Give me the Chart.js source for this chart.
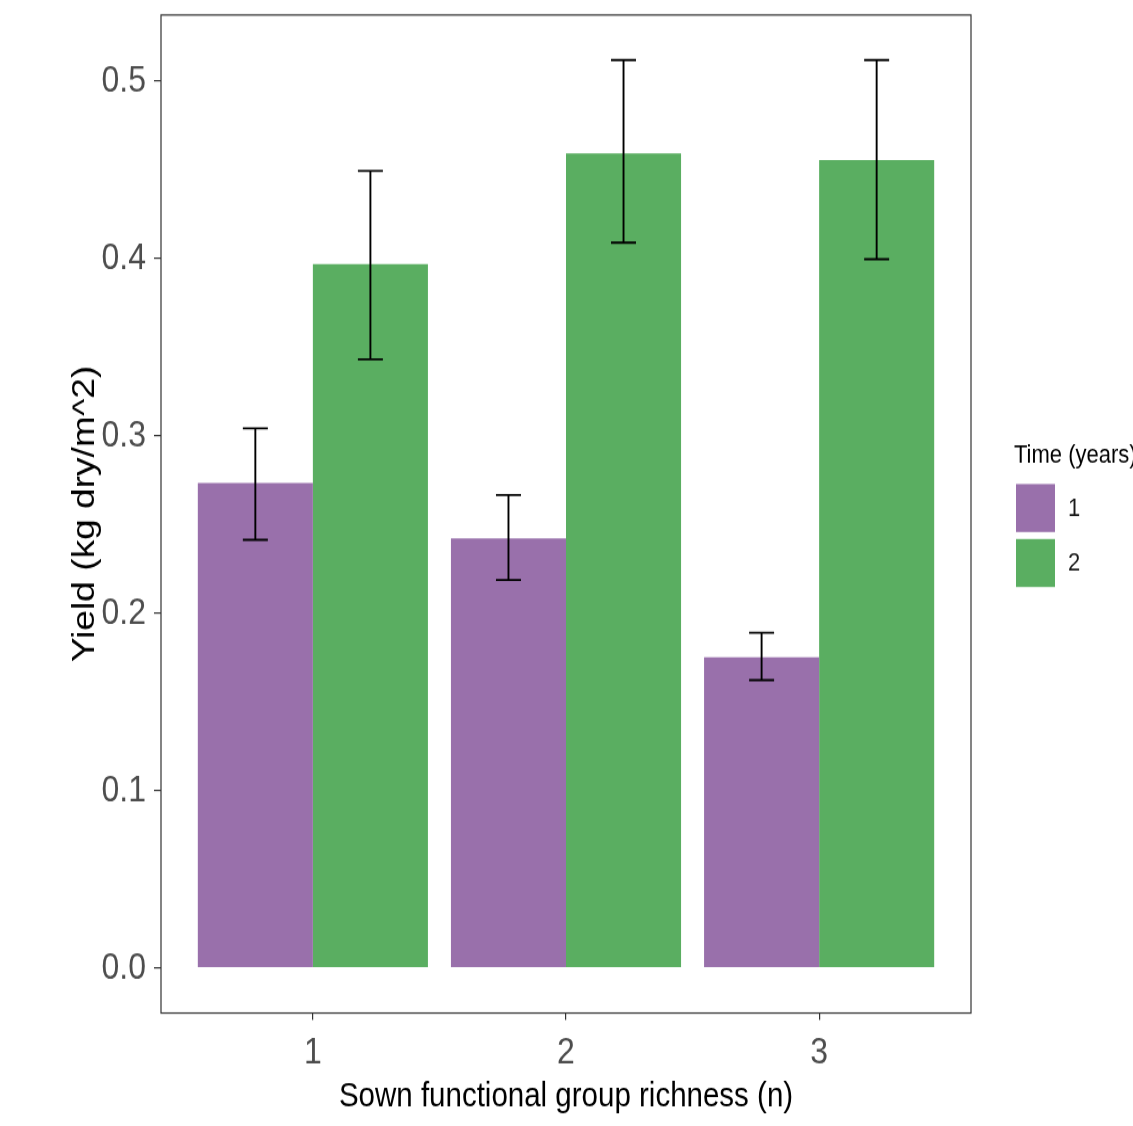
<!DOCTYPE html>
<html>
<head>
<meta charset="utf-8">
<script src="https://cdn.jsdelivr.net/npm/chart.js@4.4.1/dist/chart.umd.min.js"></script>
<style>
  html, body { margin: 0; padding: 0; background: #fff; }
</style>
</head>
<body>
<!-- the reference is stretched vertically, so the canvas is drawn shorter and scaled up -->
<canvas id="chart" width="1133" height="971" style="display:block;width:1133px;height:1126px"></canvas>
<script>
const richness = [1, 2, 3];
const yearLabels = ["1", "2"];
const yield1 = [0.2734, 0.2422, 0.1751];
const yield1Lo = [0.2413, 0.2187, 0.1622];
const yield1Hi = [0.3042, 0.2666, 0.1890];
const yield2 = [0.3968, 0.4592, 0.4555];
const yield2Lo = [0.3431, 0.4089, 0.3995];
const yield2Hi = [0.4493, 0.5118, 0.5118];
const yTicks = [0, 0.1, 0.2, 0.3, 0.4, 0.5];

const COLORS = ["#9970AB", "#5AAE61"];
const TICK_COLOR = "#4D4D4D";
const FRAME = "#333333";
const FONT = "'Liberation Sans', Arial, sans-serif";

const errorBars = {
  id: "errorBars",
  afterDatasetsDraw(chart) {
    const { ctx } = chart;
    const y = chart.scales.y;
    const lows = [yield1Lo, yield2Lo];
    const highs = [yield1Hi, yield2Hi];
    ctx.save();
    ctx.strokeStyle = "#000";
    ctx.lineWidth = 1.9;
    chart.data.datasets.forEach((ds, di) => {
      const meta = chart.getDatasetMeta(di);
      meta.data.forEach((bar, i) => {
        const x = bar.x;
        const y0 = y.getPixelForValue(lows[di][i]);
        const y1 = y.getPixelForValue(highs[di][i]);
        const half = 12.5;
        ctx.beginPath();
        ctx.moveTo(x, y0); ctx.lineTo(x, y1);
        ctx.moveTo(x - half, y0); ctx.lineTo(x + half, y0);
        ctx.moveTo(x - half, y1); ctx.lineTo(x + half, y1);
        ctx.stroke();
      });
    });
    ctx.restore();
  }
};

const frameAndLegend = {
  id: "frameAndLegend",
  afterDraw(chart) {
    const { ctx, chartArea: a } = chart;
    ctx.save();
    ctx.strokeStyle = FRAME;
    ctx.lineWidth = 1.2;
    ctx.strokeRect(a.left, a.top, a.right - a.left, a.bottom - a.top);

    // legend, ggplot style
    ctx.fillStyle = "#000";
    ctx.font = "22px " + FONT;
    ctx.textBaseline = "alphabetic";
    ctx.textAlign = "left";
    ctx.fillText("Time (years)", 1014, 399.3);
    const keyTop = [417.4, 464.8];
    yearLabels.forEach((lab, i) => {
      ctx.fillStyle = COLORS[i];
      ctx.fillRect(1016, keyTop[i], 39, 41.4);
      ctx.fillStyle = "#1a1a1a";
      ctx.textBaseline = "middle";
      ctx.fillText(lab, 1068, keyTop[i] + 21.5);
    });
    ctx.restore();
  }
};

new Chart(document.getElementById("chart"), {
  type: "bar",
  data: {
    datasets: [
      {
        label: yearLabels[0],
        data: richness.map((r, i) => ({ x: r, y: yield1[i] })),
        backgroundColor: COLORS[0]
      },
      {
        label: yearLabels[1],
        data: richness.map((r, i) => ({ x: r, y: yield2[i] })),
        backgroundColor: COLORS[1]
      }
    ]
  },
  options: {
    responsive: false,
    animation: false,
    devicePixelRatio: 1,
    categoryPercentage: 230 / 253,
    barPercentage: 1,
    layout: { padding: { left: 0, top: 12.93, right: 162, bottom: 0 } },
    plugins: { legend: { display: false }, tooltip: { enabled: false } },
    scales: {
      x: {
        type: "linear",
        min: 0.4,
        max: 3.6,
        offset: false,
        afterFit(s) {
          s.height = 971 - 873.55;
          s.paddingLeft = 0; s.paddingRight = 0;
        },
        afterBuildTicks(s) { s.ticks = richness.map(v => ({ value: v })); },
        grid: { offset: false, drawOnChartArea: false, drawTicks: true, tickLength: 6, color: FRAME, lineWidth: 1.2 },
        border: { display: false },
        ticks: {
          padding: 9,
          color: TICK_COLOR,
          font: { family: FONT, size: 32 },
          callback: v => String(v),
          maxRotation: 0
        },
        title: {
          display: true,
          text: "Sown functional group richness (n)",
          color: "#000",
          font: { family: FONT, size: 29.5 },
          padding: { top: 0, bottom: 7 }
        }
      },
      y: {
        min: -0.0254,
        max: 0.5372,
        afterFit(s) {
          s.width = 161;
          s.paddingTop = 0; s.paddingBottom = 0;
        },
        afterBuildTicks(s) { s.ticks = yTicks.map(v => ({ value: v })); },
        grid: { drawOnChartArea: false, drawTicks: true, tickLength: 7, color: FRAME, lineWidth: 1.2 },
        border: { display: false },
        ticks: {
          padding: 8,
          color: TICK_COLOR,
          font: { family: FONT, size: 32 },
          callback: v => v.toFixed(1)
        },
        title: {
          display: true,
          text: "Yield (kg dry/m^2)",
          color: "#000",
          font: { family: FONT, size: 32 },
          padding: { top: 66, bottom: 0 }
        }
      }
    }
  },
  plugins: [errorBars, frameAndLegend]
});
</script>
</body>
</html>
